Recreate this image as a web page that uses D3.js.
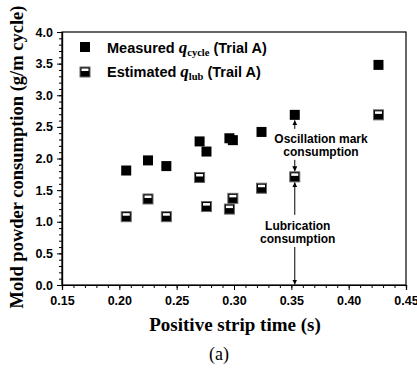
<!DOCTYPE html>
<html>
<head>
<meta charset="utf-8">
<script src="https://cdn.jsdelivr.net/npm/d3@7"></script>
<style>
  body { margin: 0; background: white; }
  svg { display: block; }
</style>
</head>
<body>
<div id="container"></div>
<script>
let w = 417;
let h = 369;
let padL = 62, padR = 406, padT = 32, padB = 285;

// strip time (s)
let stripTime = [0.206, 0.225, 0.241, 0.270, 0.276, 0.296, 0.299, 0.324, 0.353, 0.426];
// measured q_cycle (g/m cycle)
let measured = [1.81, 1.97, 1.88, 2.27, 2.11, 2.32, 2.29, 2.42, 2.69, 3.48];
// estimated q_lub
let estimated = [1.08, 1.36, 1.08, 1.70, 1.24, 1.20, 1.37, 1.53, 1.71, 2.69];

let xTicks = [0.15, 0.20, 0.25, 0.30, 0.35, 0.40, 0.45];
let yTicks = [0.0, 0.5, 1.0, 1.5, 2.0, 2.5, 3.0, 3.5, 4.0];

let sans = "Arial, 'Liberation Sans', sans-serif";
let serif = "'Times New Roman', 'Liberation Serif', serif";

let svg = d3.select("#container")
  .append("svg")
  .attr("width", w)
  .attr("height", h);

let x = d3.scaleLinear().domain([0.15, 0.45]).range([padL, padR]);
let y = d3.scaleLinear().domain([0, 4]).range([padB, padT]);

// frame
svg.append("rect")
  .attr("x", padL).attr("y", padT)
  .attr("width", padR - padL).attr("height", padB - padT)
  .attr("fill", "none").attr("stroke", "black").attr("stroke-width", 1.2);

// minor ticks
let xMinor = d3.range(15, 46).map(d => d / 100);
let yMinor = d3.range(0, 41).map(d => d / 10);

let xAxis = svg.append("g").attr("transform", "translate(0," + padB + ")");
xAxis.call(d3.axisBottom(x).tickValues(xMinor).tickSize(3).tickFormat(""));
xAxis.append("g").call(d3.axisBottom(x).tickValues(xTicks).tickSize(5).tickFormat(d3.format(".2f")));
xAxis.selectAll(".domain").attr("stroke-width", 1.2);
xAxis.selectAll("text")
  .attr("font-family", sans).attr("font-weight", "bold").attr("font-size", 12.5)
  .attr("fill", "black").attr("dy", "0.95em");

let yAxis = svg.append("g").attr("transform", "translate(" + padL + ",0)");
yAxis.call(d3.axisLeft(y).tickValues(yMinor).tickSize(3).tickFormat(""));
yAxis.append("g").call(d3.axisLeft(y).tickValues(yTicks).tickSize(5).tickFormat(d3.format(".1f")));
yAxis.selectAll(".domain").attr("stroke-width", 1.2);
yAxis.selectAll("text")
  .attr("font-family", sans).attr("font-weight", "bold").attr("font-size", 12.5)
  .attr("fill", "black").attr("dx", "-1px");

// markers
let s = 10;
function filledSquare(g, cx, cy) {
  g.append("rect").attr("x", cx - s / 2).attr("y", cy - s / 2)
    .attr("width", s).attr("height", s).attr("fill", "black");
}
function halfSquare(g, cx, cy) {
  g.append("rect").attr("x", cx - s / 2).attr("y", cy - s / 2)
    .attr("width", s).attr("height", s).attr("fill", "black")
    .attr("stroke", "#666").attr("stroke-width", 1);
  g.append("rect").attr("x", cx - s / 2 + 1.5).attr("y", cy - s / 2 + 1.5)
    .attr("width", s - 3).attr("height", s / 2 - 2.5).attr("fill", "white");
}

let pts = svg.append("g");
stripTime.forEach((t, i) => {
  filledSquare(pts, x(t), y(measured[i]));
  halfSquare(pts, x(t), y(estimated[i]));
});

// legend
let leg = svg.append("g");
filledSquare(leg, 85, 47);
halfSquare(leg, 85, 72);

function legendText(ty, pre, sub, post) {
  let t = leg.append("text").attr("x", 107).attr("y", ty)
    .attr("font-family", sans).attr("font-weight", "bold").attr("font-size", 14.5);
  t.append("tspan").text(pre + " ");
  t.append("tspan").text("q").attr("font-family", serif).attr("font-style", "italic").attr("font-size", 17);
  t.append("tspan").text(sub).attr("font-family", serif).attr("font-size", 10.5).attr("dy", 3);
  t.append("tspan").text(" " + post).attr("dy", -3);
}
legendText(53, "Measured", "cycle", "(Trial A)");
legendText(77, "Estimated", "lub", "(Trail A)");

// annotations
let ax = x(stripTime[8]);
let defs = svg.append("defs");
defs.append("marker").attr("id", "arr").attr("viewBox", "0 0 6 6")
  .attr("refX", 6).attr("refY", 3).attr("markerWidth", 5).attr("markerHeight", 5)
  .attr("orient", "auto")
  .append("path").attr("d", "M0,0 L6,3 L0,6 Z").attr("fill", "black");

function arrow(y1, y2) {
  svg.append("line").attr("x1", ax).attr("x2", ax).attr("y1", y1).attr("y2", y2)
    .attr("stroke", "black").attr("stroke-width", 1).attr("marker-end", "url(#arr)");
}
let ym = y(measured[8]) + s / 2;
let ye = y(estimated[8]);
arrow(ym + 9, ym + 0.5);
arrow(ye - 17, ye - s / 2 - 0.5);
arrow(ye + 38, ye + s / 2 + 0.5);
arrow(247, y(0) - 0.5);

function note(lines, cx, ty) {
  lines.forEach((l, i) => {
    svg.append("text").attr("x", cx).attr("y", ty + i * 13)
      .attr("text-anchor", "middle")
      .attr("font-family", sans).attr("font-weight", "bold").attr("font-size", 12)
      .attr("fill", "black").text(l);
  });
}
note(["Oscillation mark", "consumption"], 321, 143);
note(["Lubrication", "consumption"], ax + 3, 230);

// axis titles
svg.append("text").attr("x", 235).attr("y", 331)
  .attr("text-anchor", "middle")
  .attr("font-family", serif).attr("font-weight", "bold").attr("font-size", 19)
  .text("Positive strip time (s)");

svg.append("text")
  .attr("transform", "translate(23,157) rotate(-90)")
  .attr("text-anchor", "middle")
  .attr("font-family", serif).attr("font-weight", "bold").attr("font-size", 18.5)
  .text("Mold powder consumption (g/m cycle)");

svg.append("text").attr("x", 219).attr("y", 360)
  .attr("text-anchor", "middle")
  .attr("font-family", serif).attr("font-size", 18)
  .text("(a)");
</script>
</body>
</html>
